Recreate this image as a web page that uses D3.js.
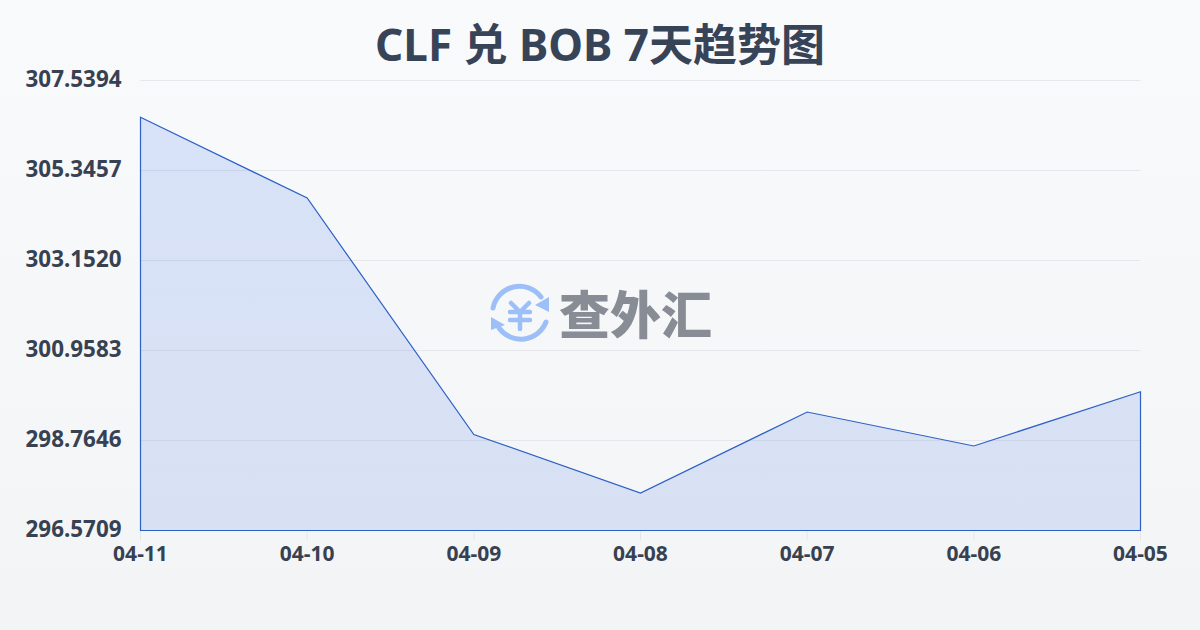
<!DOCTYPE html>
<html><head><meta charset="utf-8">
<script src="https://cdnjs.cloudflare.com/ajax/libs/d3/7.8.5/d3.min.js"></script>
<style>html,body{margin:0;padding:0;background:#f5f7f9}svg{display:block}</style>
</head><body><svg id="c" width="1200" height="630"></svg>
<script>
const titleText = "CLF 兑 BOB 7天趋势图";
const dates = ["04-11","04-10","04-09","04-08","04-07","04-06","04-05"];
const rates = [306.6424,304.675,298.911,297.485,299.459,298.631,299.954];
const yTicks = [296.5709,298.7646,300.9583,303.1520,305.3457,307.5394];
const watermark = "查外汇";
const svg = d3.select("#c");
const W=1200,H=630,L=140.5,R=1140.5,T=80.5,B=530.5;
const defs = svg.append("defs");
const bg = defs.append("linearGradient").attr("id","bg").attr("x1",0).attr("y1",0).attr("x2",0).attr("y2",1);
bg.append("stop").attr("offset",0).attr("stop-color","#f8fafc");
bg.append("stop").attr("offset",1).attr("stop-color","#f3f4f6");
const af = defs.append("linearGradient").attr("id","af").attr("gradientUnits","userSpaceOnUse").attr("x1",0).attr("y1",T).attr("x2",0).attr("y2",B);
af.append("stop").attr("offset",0).attr("stop-color","#2563eb").attr("stop-opacity",.15);
af.append("stop").attr("offset",1).attr("stop-color","#2a5cd8").attr("stop-opacity",.135);
svg.append("rect").attr("width",W).attr("height",H).attr("fill","url(#bg)");
const x = d3.scalePoint().domain(dates).range([L,R]);
const y = d3.scaleLinear().domain([yTicks[0],yTicks[yTicks.length-1]]).range([B,T]);
const sans = "'Noto Sans','Noto Sans CJK SC',sans-serif";
svg.append("g").selectAll("line").data(yTicks.slice(1)).join("line")
 .attr("x1",L).attr("x2",R).attr("y1",d=>y(d)).attr("y2",d=>y(d))
 .attr("stroke","#e5e7eb").attr("stroke-width",1);
svg.append("g").selectAll("line").data(dates).join("line")
 .attr("x1",d=>x(d)).attr("x2",d=>x(d)).attr("y1",B).attr("y2",B+10)
 .attr("stroke","#e5e7eb").attr("stroke-width",1);
const area = d3.area().x((d,i)=>x(dates[i])).y0(B).y1(d=>y(d));
svg.append("path").datum(rates).attr("d",area).attr("fill","url(#af)");
svg.append("path").datum(rates).attr("d",area).attr("fill","none").attr("stroke","#2c60c4").attr("stroke-width",1.2);
svg.append("g").selectAll("text").data(yTicks).join("text")
 .attr("x",121.5).attr("y",d=>y(d)+6).attr("text-anchor","end")
 .attr("font-family",sans).attr("font-weight",700).attr("font-size",22.4).attr("fill","#374151")
 .text(d=>d.toFixed(4));
svg.append("g").selectAll("text").data(dates).join("text")
 .attr("x",d=>x(d)).attr("y",560.5).attr("text-anchor","middle")
 .attr("font-family",sans).attr("font-weight",700).attr("font-size",21).attr("fill","#374151")
 .text(d=>d);
svg.append("text").attr("x",600).attr("y",61).attr("text-anchor","middle")
 .attr("font-family",sans).attr("font-weight",700).attr("font-size",44).attr("fill","#374357").text(titleText);
const wm = svg.append("g").attr("transform","translate(520,315)");
const blue="#9dbff8";
wm.append("path").attr("d","M-27,-7 A27,27 0 0 1 21,-18").attr("fill","none").attr("stroke",blue).attr("stroke-width",5).attr("stroke-linecap","round");
wm.append("path").attr("d","M26,7 A27,27 0 0 1 -21,13").attr("fill","none").attr("stroke",blue).attr("stroke-width",5).attr("stroke-linecap","round");
wm.append("path").attr("d","M15,-10 L29,-18 L29,-3 Z").attr("fill",blue);
wm.append("path").attr("d","M-15,10 L-29,2 L-29,15 Z").attr("fill",blue);
wm.append("path").attr("d","M-9,-12 L0,-3 L9,-12 M-10,-3 H10 M-10,5 H10 M0,-3 V14").attr("fill","none").attr("stroke",blue).attr("stroke-width",4.5).attr("stroke-linecap","round").attr("stroke-linejoin","round");
svg.append("text").attr("x",559).attr("y",334).attr("font-family","'Noto Sans CJK SC',sans-serif").attr("font-weight",900).attr("font-size",51).attr("fill","#888c94").text(watermark);
</script></body></html>
